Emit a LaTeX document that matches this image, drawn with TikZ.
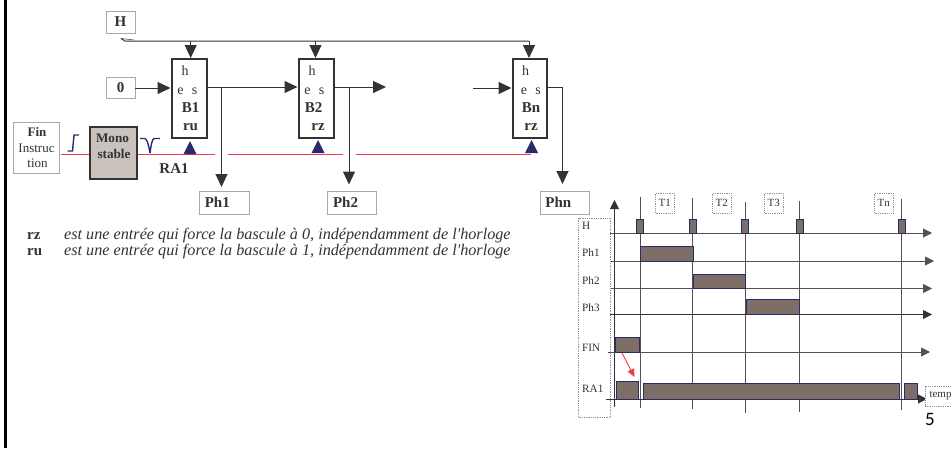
\documentclass[tikz,border=0pt]{standalone}
\usepackage{fontspec}
\setmainfont{Liberation Serif}
\newfontfamily\notefont{Liberation Serif}
\newfontfamily\pagefont{Carlito}
\usetikzlibrary{arrows.meta,calc}
\definecolor{ink}{HTML}{333333}
\definecolor{boxline}{HTML}{A8A8A8}
\definecolor{navy}{HTML}{2B2B6B}
\definecolor{barfill}{HTML}{7D6E68}
\definecolor{monofill}{HTML}{C9C2BD}
\definecolor{redline}{HTML}{EE3B4B}
\definecolor{dotline}{HTML}{8E8EB0}
\tikzset{
  x=1pt,y=-1pt,
  lbl/.style={draw=boxline,line width=0.9pt,fill=white,inner sep=0pt,text=ink,font=\fontsize{15}{15}\selectfont\bfseries},
  latch/.style={draw=ink,line width=2pt,fill=white,inner sep=0pt},
  txt/.style={inner sep=0pt,text=ink,font=\fontsize{14}{14}\selectfont},
  btxt/.style={txt,font=\fontsize{15}{15}\selectfont\bfseries},
  wire/.style={draw=ink,line width=1pt},
  big/.style={-{Triangle[width=12pt,length=13pt]}},
  red/.style={draw=redline,line width=1pt},
  axis/.style={draw=ink!85,line width=0.9pt,-{Triangle[width=9pt,length=9pt]}},
  tick/.style={draw=ink!85,line width=0.8pt},
  tbar/.style={draw=navy,line width=0.9pt,fill=barfill,inner sep=0pt},
  dotbox/.style={draw=dotline,densely dotted,line width=0.8pt,fill=white,inner sep=0pt,text=ink,font=\fontsize{11}{11}\selectfont},
  tlab/.style={inner sep=0pt,anchor=west,text=ink,font=\fontsize{11.2}{11.2}\selectfont},
  note/.style={inner sep=0pt,anchor=base west,text=ink,font=\notefont\fontsize{16.2}{16.2}\selectfont\itshape},
  noteb/.style={inner sep=0pt,anchor=base west,text=ink,font=\fontsize{15}{15}\selectfont\bfseries},
}
\newcommand\boxat[6]{% style,name,x1,y1,x2,y2 -- text after
  \pgfmathsetmacro\bw{#5-#3}\pgfmathsetmacro\bh{#6-#4}%
  \pgfmathsetmacro\bx{(#5+#3)/2}\pgfmathsetmacro\by{(#6+#4)/2}%
  \node[#1,minimum width=\bw pt,minimum height=\bh pt] (#2) at (\bx,\by)}
\newcommand\bluetri[2]{\fill[navy] (#1,#2) -- ++(-6.5,13) -- ++(13,0) -- cycle;}
\begin{document}
\begin{tikzpicture}
\useasboundingbox (0,0) rectangle (952,448);
\fill[black] (4,0) rectangle (6.5,448);

% top boxes
\boxat{lbl}{H}{106}{11}{135}{33} {H};
\boxat{lbl}{zero}{106}{77}{135}{98} {0};
\boxat{lbl}{fin}{13.5}{122}{59}{173} {};
\node[btxt,font=\fontsize{13}{13}\selectfont\bfseries] at (37,132) {Fin};
\node[txt,font=\fontsize{13}{13}\selectfont] at (36.5,148) {Instruc};
\node[txt,font=\fontsize{13}{13}\selectfont] at (37.5,163) {tion};
\boxat{lbl}{ph1}{199.5}{191.5}{249}{214} {Ph1\hspace*{14pt}};
\boxat{lbl}{ph2}{327}{191.5}{376}{214} {Ph2\hspace*{12pt}};
\boxat{lbl}{phn}{540.5}{191.5}{589}{214} {Phn\hspace*{13pt}};

% latches
\boxat{latch}{b1}{171.5}{59}{206.5}{137.5} {};
\boxat{latch}{b2}{298.5}{59}{334}{138} {};
\boxat{latch}{bn}{512.5}{59}{547}{137.5} {};
\node[txt] at (185,71) {h};
\node[txt] at (180.5,91) {e};
\node[txt] at (194.5,91) {s};
\node[btxt] at (190.5,108) {B1};
\node[btxt] at (190.5,127) {ru};
\node[txt] at (312,71) {h};
\node[txt] at (307.5,91) {e};
\node[txt] at (321.5,91) {s};
\node[btxt] at (313.5,108) {B2};
\node[btxt] at (318,127) {rz};
\node[txt] at (525.5,71) {h};
\node[txt] at (524,91) {e};
\node[txt] at (538,91) {s};
\node[btxt] at (531,108) {Bn};
\node[btxt] at (531,127) {rz};

% clock bus
\coordinate (hstart) at (121,38.5);
\coordinate (bus1) at (190.7,41);
\coordinate (bus2) at (315.5,41);
\coordinate (busn) at (529,41);
\draw[wire] (hstart) -- (125,41) -- (busn);
\draw[wire,line width=0.5pt] (hstart) -- (134,40);
\draw[wire,big] (bus1) -- (bus1 |- b1.north);
\draw[wire,big] (bus2) -- (bus2 |- b2.north);
\draw[wire,big] (busn) -- (busn |- bn.north);

% data path
\coordinate (in1) at (b1.west |- 0,88);
\draw[wire,big] (zero.east |- in1) -- (in1);
\coordinate (out1) at (b1.east |- 0,87);
\coordinate (in2) at (b2.west |- 0,87);
\coordinate (j1) at (221.5,87);
\draw[wire,big] (out1) -- (in2);
\draw[wire,big] (j1) -- (j1 |- 0,187);
\coordinate (out2) at (b2.east |- 0,87);
\coordinate (open2) at (386,87);
\coordinate (j2) at (349,87);
\draw[wire,big] (out2) -- (open2);
\draw[wire,big] (j2) -- (j2 |- 0,184.5);
\coordinate (openn) at (473,88);
\draw[wire,big] (openn) -- (bn.west |- openn);
\coordinate (outn) at (bn.east |- 0,87);
\draw[wire,big] (outn) -- (562.5,87) -- (562.5,184);

% mono
\boxat{draw=ink,line width=2pt,fill=monofill,inner sep=0pt}{mono}{90}{127}{136.5}{179} {};
\node[btxt,font=\fontsize{13.2}{13.2}\selectfont\bfseries] at (112.5,138) {Mono};
\node[btxt,font=\fontsize{13.2}{13.2}\selectfont\bfseries] at (114,154) {stable};

% reset line
\coordinate (cut1) at (215,154);
\coordinate (cut2) at (228,154);
\coordinate (cut3) at (343,154);
\coordinate (cut4) at (356,154);
\coordinate (rend) at (531,154);
\draw[red] (fin.east |- cut1) ++(2,0) -- (mono.west |- cut1);
\draw[red] (mono.east |- cut1) -- (cut1);
\draw[red] (cut2) -- (cut3);
\draw[red] (cut4) -- (rend);
\bluetri{190}{141}
\bluetri{318}{140}
\bluetri{531.5}{140}
\node[btxt] at (174,169) {RA1};

% edge symbols
\draw[navy,line width=1.4pt] (67.5,151) -- (72.5,151) -- (74,135) -- (79,135);
\draw[navy,line width=1.4pt] (140,138.5) -- (145,138.5) .. controls (147,139) and (149,146) .. (150,153);
\draw[navy,line width=1.4pt] (150,153) .. controls (151,146) and (152,139) .. (154,138.5) -- (160,138.5);

% notes
\node[noteb] at (27,239) {rz};
\node[note] at (64,239) {est une entrée qui force la bascule à 0, indépendamment de l'horloge};
\node[noteb] at (27,255.5) {ru};
\node[note] at (64,255.5) {est une entrée qui force la bascule à 1, indépendamment de l'horloge};

% chronogram: label frame
\boxat{dotbox}{frame}{578.5}{218}{610.5}{417} {};
\node[tlab] (lh) at (582,226) {H};
\node[tlab] (lp1) at (582,253) {Ph1};
\node[tlab] (lp2) at (582,280.5) {Ph2};
\node[tlab] (lp3) at (582,308) {Ph3};
\node[tlab] (lf) at (582,348) {FIN};
\node[tlab] (lr) at (582,389) {RA1};

% time labels
\boxat{dotbox}{t1}{655.5}{193}{674}{213} {T1};
\boxat{dotbox}{t2}{712.5}{193}{731}{213} {T2};
\boxat{dotbox}{t3}{764.5}{193}{783}{213} {T3};
\boxat{dotbox}{tn}{874.5}{193}{893}{213} {Tn};

% vertical axis and ticks
\coordinate (ya) at (614.5,407);
\coordinate (yb) at (614.5,200);
\draw[draw=ink,line width=0.9pt,-{Triangle[width=9pt,length=9pt]}] (ya) -- (yb);
\draw[tick] (640,197) -- (640,408);
\draw[tick] (692.5,198) -- (692.5,409);
\draw[tick] (745,202) -- (745,413);
\draw[tick] (799.5,201) -- (799.5,412);
\draw[tick] (901,199) -- (901,410);

% time axes
\draw[axis] (610,233) -- (932,233);
\draw[axis] (611,261) -- (934,261);
\draw[axis] (611,288.5) -- (932,288.5);
\draw[axis,draw=ink] (610,314.5) -- (932,314.5);
\draw[axis] (608,352) -- (930,352);
\draw[axis,draw=ink] (606,399) -- (927,399);

% bars
\boxat{tbar}{p1}{636.5}{219}{643.5}{233} {};
\boxat{tbar}{p2}{689.5}{219}{696.5}{233} {};
\boxat{tbar}{p3}{741.5}{219}{748.5}{233} {};
\boxat{tbar}{p4}{796}{219}{803}{233} {};
\boxat{tbar}{p5}{898}{219}{905}{233} {};
\boxat{tbar}{s1}{640}{246}{693}{261} {};
\boxat{tbar}{s2}{693}{274}{745.5}{288.5} {};
\boxat{tbar}{s3}{746}{299}{799}{314} {};
\boxat{tbar}{sf}{615}{337.5}{639}{352} {};
\boxat{tbar}{r1}{616.5}{381.5}{638}{399} {};
\boxat{tbar}{r2}{643}{383}{899}{399} {};
\boxat{tbar}{r3}{904.5}{383}{917}{399} {};

% red cause arrow
\coordinate (ca) at (622,353);
\coordinate (cb) at (634.5,377);
\draw[draw=redline,line width=0.9pt,-{Triangle[width=7pt,length=8pt]}] (ca) -- (cb);

% corner
\boxat{dotbox}{temps}{925}{386}{953}{406} {\hspace*{3pt}temp};
\node[inner sep=0pt,text=black,font=\pagefont\fontsize{19}{19}\selectfont] (pg) at (930,419.5) {5};
\end{tikzpicture}
\end{document}
